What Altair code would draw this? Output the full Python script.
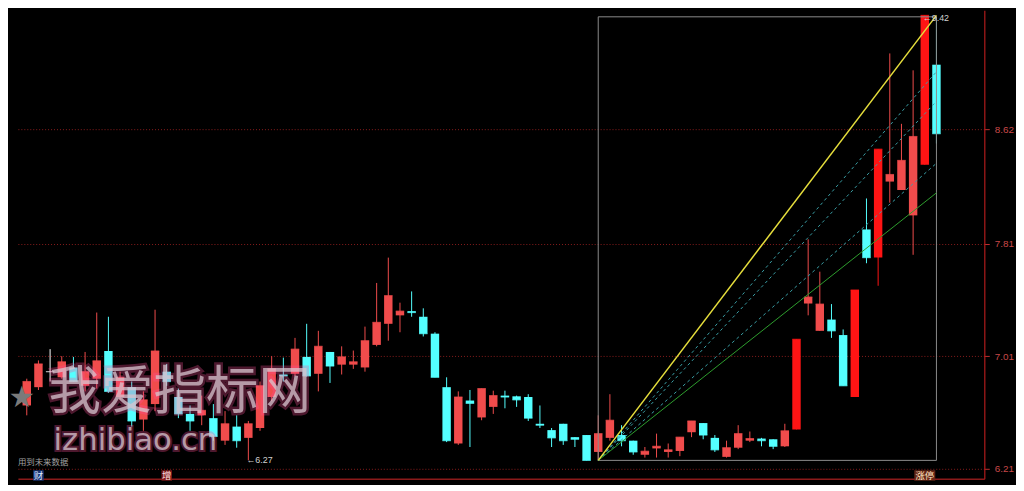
import altair as alt
import pandas as pd

# ---- candle data (index order, left to right) ----
OPEN = [6.66, 6.79, 6.90, 6.86, 6.93, 6.80, 6.85, 7.047, 6.72, 6.79,
        6.56, 6.67, 6.90, 6.72, 6.60, 6.59, 6.57, 6.41, 6.51, 6.43,
        6.50, 6.72, 6.88, 6.885, 7.005, 6.885, 7.04, 6.95, 6.95, 6.93,
        7.09, 7.24, 7.30, 7.33, 7.29, 7.17, 6.79, 6.39, 6.695, 6.575,
        6.65, 6.73, 6.725, 6.72, 6.53, 6.485, 6.53, 6.435, 6.45, 6.33,
        6.43, 6.45, 6.41, 6.31, 6.355, 6.33, 6.337, 6.47, 6.535, 6.43,
        6.295, 6.36, 6.41, 6.425, 6.42, 6.37, 6.49, 7.384, 7.19, 7.27,
        7.16, 6.72, 7.91, 7.71, 8.25, 8.19, 8.01, 8.37, 9.08]
HIGH = [6.85, 6.98, 7.06, 7.01, 7.005, 7.04, 7.32, 7.29, 6.90, 6.83,
        6.76, 7.34, 6.955, 6.78, 6.66, 6.73, 6.67, 6.62, 6.59, 6.55,
        6.83, 7.01, 7.00, 7.14, 7.24, 7.19, 7.04, 7.08, 7.05, 7.22,
        7.53, 7.71, 7.39, 7.47, 7.35, 7.18, 6.86, 6.76, 6.77, 6.78,
        6.765, 6.765, 6.73, 6.74, 6.66, 6.50, 6.53, 6.435, 6.45, 6.59,
        6.74, 6.52, 6.41, 6.365, 6.46, 6.39, 6.435, 6.55, 6.535, 6.45,
        6.41, 6.52, 6.475, 6.43, 6.42, 6.53, 7.13, 7.84, 7.61, 7.38,
        7.20, 7.48, 8.13, 8.48, 9.16, 8.66, 9.04, 9.43, 9.42]
LOW = [6.59, 6.77, 6.83, 6.85, 6.83, 6.76, 6.78, 6.75, 6.70, 6.51,
       6.48, 6.62, 6.80, 6.57, 6.48, 6.52, 6.41, 6.38, 6.36, 6.27,
       6.48, 6.69, 6.83, 6.87, 6.865, 6.76, 6.82, 6.88, 6.92, 6.90,
       7.08, 7.12, 7.18, 7.29, 7.15, 6.86, 6.40, 6.38, 6.365, 6.555,
       6.60, 6.64, 6.65, 6.55, 6.50, 6.365, 6.38, 6.365, 6.27, 6.27,
       6.41, 6.37, 6.31, 6.29, 6.29, 6.29, 6.30, 6.435, 6.42, 6.33,
       6.29, 6.35, 6.40, 6.37, 6.35, 6.365, 6.49, 7.30, 7.19, 7.14,
       6.80, 6.72, 7.67, 7.51, 8.10, 8.19, 7.73, 8.37, 8.52]
CLOSE = [6.83, 6.955, 6.90, 6.97, 6.83, 6.90, 6.977, 6.76, 6.86, 6.55,
         6.70, 7.047, 6.83, 6.60, 6.55, 6.625, 6.44, 6.53, 6.41, 6.53,
         6.80, 6.92, 6.87, 7.06, 6.87, 7.08, 6.94, 7.005, 6.97, 7.12,
         7.25, 7.44, 7.33, 7.32, 7.17, 6.86, 6.41, 6.72, 6.675, 6.78,
         6.73, 6.72, 6.70, 6.57, 6.52, 6.43, 6.41, 6.42, 6.27, 6.46,
         6.555, 6.41, 6.33, 6.335, 6.37, 6.345, 6.435, 6.55, 6.45, 6.345,
         6.36, 6.46, 6.425, 6.41, 6.37, 6.48, 7.13, 7.43, 7.38, 7.19,
         6.80, 7.48, 7.71, 8.48, 8.30, 8.40, 8.57, 9.43, 8.59]
LIMIT_UP = [66, 71, 73, 77]

# axis ticks (price)
Y_TICKS = [6.21, 7.01, 7.81, 8.62]
Y_DOMAIN = [6.14, 9.466]
X_DOMAIN = [-0.336, 81.68]

# range box + fan lines
BOX_START, BOX_END = 49, 78
BOX_LOW, BOX_HIGH = 6.27, 9.42
FAN_YELLOW = 9.43
FAN_DASHED = [9.03, 8.82, 8.38]
FAN_GREEN = 8.17

# annotations
LOW_MARK = (19, 6.27, "←6.27")
HIGH_MARK = (77, 9.41, "←9.42")
BOTTOM_TAGS = [(1, "财", 1, "#dde8ff", "#1c3c86"),
               (12, "增", 1, "#ffe0e0", "#8a1c1c"),
               (77, "涨停", 2, "#ffe2c0", "#6e2a18")]

rows = []
for i, (o, h, l, c) in enumerate(zip(OPEN, HIGH, LOW, CLOSE)):
    if i in LIMIT_UP:
        kind = "limit"
    elif c > o:
        kind = "up"
    elif c < o:
        kind = "down"
    else:
        kind = "flat"
    rows.append(dict(idx=i, open=o, high=h, low=l, close=c, kind=kind))
df = pd.DataFrame(rows)

xs = alt.Scale(domain=X_DOMAIN, nice=False, zero=False)
ys = alt.Scale(domain=Y_DOMAIN, nice=False, zero=False)
cs = alt.Scale(domain=["up", "down", "limit", "flat"],
               range=["#f04c4c", "#54ffff", "#ff1414", "#ffffff"])

X = alt.X("idx:Q", scale=xs,
          axis=alt.Axis(labels=False, ticks=False, grid=False, title=None,
                        domainColor="#8b1a1a", domainWidth=1.5))
base = alt.Chart(df)

wick = base.mark_rule(strokeWidth=1).encode(
    x=X,
    y=alt.Y("low:Q", scale=ys,
            axis=alt.Axis(orient="right", values=Y_TICKS, format=".2f", title=None,
                          labelColor="#c84848", labelFontSize=10, labelFont="Liberation Sans",
                          tickColor="#c03030", tickSize=5, labelPadding=5,
                          domainColor="#b01c1c", domainWidth=1.2,
                          grid=True, gridColor="#8a1c1c", gridDash=[1, 2], gridWidth=1,
                          minExtent=32, maxExtent=32)),
    y2="high:Q",
    color=alt.Color("kind:N", scale=cs, legend=None),
)
body = base.mark_bar(size=8.5).encode(
    x=alt.X("idx:Q", scale=xs),
    y=alt.Y("open:Q", scale=ys),
    y2="close:Q",
    color=alt.Color("kind:N", scale=cs, legend=None),
)
tick = base.mark_tick(orient="horizontal", size=8.5, thickness=1.2).encode(
    x=alt.X("idx:Q", scale=xs),
    y=alt.Y("close:Q", scale=ys),
    color=alt.Color("kind:N", scale=cs, legend=None),
)

# box
box_df = pd.DataFrame([dict(x0=BOX_START, x1=BOX_END, y0=BOX_LOW, y1=BOX_HIGH)])
box = alt.Chart(box_df).mark_rect(filled=False, stroke="#8c8c8c", strokeWidth=1).encode(
    x=alt.X("x0:Q", scale=xs), x2="x1:Q",
    y=alt.Y("y0:Q", scale=ys), y2="y1:Q",
)

def fan_df(ends, prefix):
    r = []
    for k, p in enumerate(ends):
        r.append(dict(line=f"{prefix}{k}", idx=BOX_START, price=BOX_LOW))
        r.append(dict(line=f"{prefix}{k}", idx=BOX_END, price=p))
    return pd.DataFrame(r)

fan_y = alt.Chart(fan_df([FAN_YELLOW], "y")).mark_line(color="#e6de3c", strokeWidth=1.5).encode(
    x=alt.X("idx:Q", scale=xs), y=alt.Y("price:Q", scale=ys), detail="line:N")
fan_d = alt.Chart(fan_df(FAN_DASHED, "d")).mark_line(color="#3a9fa6", strokeWidth=1,
                                                      strokeDash=[3, 3]).encode(
    x=alt.X("idx:Q", scale=xs), y=alt.Y("price:Q", scale=ys), detail="line:N")
fan_g = alt.Chart(fan_df([FAN_GREEN], "g")).mark_line(color="#2e9e2e", strokeWidth=1).encode(
    x=alt.X("idx:Q", scale=xs), y=alt.Y("price:Q", scale=ys), detail="line:N")

# markers
mk_df = pd.DataFrame([dict(idx=LOW_MARK[0], price=LOW_MARK[1], t=LOW_MARK[2]),
                      dict(idx=HIGH_MARK[0], price=HIGH_MARK[1], t=HIGH_MARK[2])])
marks = alt.Chart(mk_df).mark_text(align="left", baseline="middle", fontSize=9,
                                    color="#d0d0d0", dx=-2, font="Liberation Sans").encode(
    x=alt.X("idx:Q", scale=xs), y=alt.Y("price:Q", scale=ys), text="t:N")

tag_df = pd.DataFrame([dict(idx=a, t=b, n=n, fc=fc, bc=bc) for a, b, n, fc, bc in BOTTOM_TAGS])
tag_base = alt.Chart(tag_df).transform_calculate(
    x0="datum.idx - 0.45 * datum.n", x1="datum.idx + 0.45 * datum.n")
tag_bg = tag_base.mark_rect(opacity=0.9).encode(
    x=alt.X("x0:Q", scale=xs), x2="x1:Q",
    y=alt.value(464.5), y2=alt.value(475),
    color=alt.Color("bc:N", scale=None))
tags = tag_base.mark_text(align="center", baseline="middle", fontSize=9.5,
                          font="Noto Sans CJK SC").encode(
    x=alt.X("idx:Q", scale=xs), y=alt.value(470), text="t:N",
    color=alt.Color("fc:N", scale=None))

note = alt.Chart(pd.DataFrame({"t": ["用到未来数据"]})).mark_text(
    align="left", baseline="middle", fontSize=8.5, color="#a0a0a0",
    font="Noto Sans CJK SC").encode(x=alt.value(0), y=alt.value(456), text="t:N")

# watermark
wm1 = pd.DataFrame({"t": ["我爱指标网"]})
wm2 = pd.DataFrame({"t": ["izhibiao.cn"]})
wm_glow = alt.Chart(wm1).mark_text(align="left", baseline="middle", fontSize=53,
                                   font="Noto Sans CJK SC", color="#ff4f9a", opacity=0.3,
                                   stroke="#ff4f9a", strokeWidth=5).encode(
    x=alt.value(31), y=alt.value(387), text="t:N")
wm_fill = alt.Chart(wm1).mark_text(align="left", baseline="middle", fontSize=53,
                                   font="Noto Sans CJK SC", color="#d8c6d0", opacity=0.75).encode(
    x=alt.value(31), y=alt.value(387), text="t:N")
wm2_glow = alt.Chart(wm2).mark_text(align="left", baseline="bottom", fontSize=31,
                                    font="DejaVu Sans", color="#ff4f9a", opacity=0.3,
                                    stroke="#ff4f9a", strokeWidth=4).encode(
    x=alt.value(36), y=alt.value(451), text="t:N")
wm2_fill = alt.Chart(wm2).mark_text(align="left", baseline="bottom", fontSize=31,
                                    font="DejaVu Sans", color="#d8c6d0", opacity=0.75).encode(
    x=alt.value(36), y=alt.value(451), text="t:N")
star = alt.Chart(pd.DataFrame({"t": ["★"]})).mark_text(
    align="center", baseline="middle", fontSize=30, color="#7a7a7a", font="DejaVu Sans").encode(
    x=alt.value(4), y=alt.value(392), text="t:N")

chart = alt.layer(
    wick, body, tick, box, fan_d, fan_g, fan_y, marks, tag_bg, tags, note,
    star, wm_glow, wm_fill, wm2_glow, wm2_fill,
).properties(
    width=976, height=473, background="#000000",
    padding={"left": 0, "top": 0, "right": 0, "bottom": 2},
).configure_view(stroke=None)

chart.save("out.html", embed_options={"renderer": "svg", "actions": False})
